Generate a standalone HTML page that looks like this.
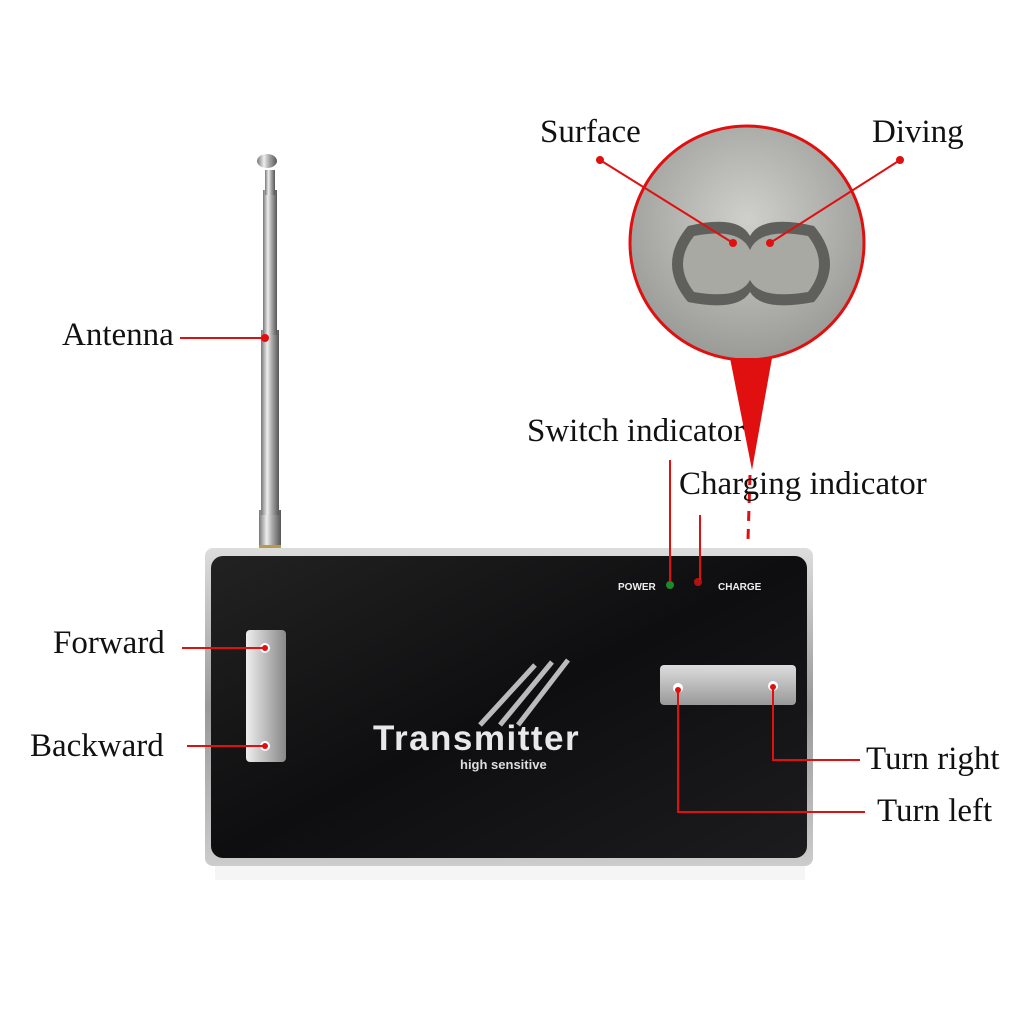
<!DOCTYPE html>
<html><head><meta charset="utf-8"><style>
html,body{margin:0;padding:0;background:#fff;}
body{width:1024px;height:1024px;position:relative;overflow:hidden;font-family:"Liberation Serif",serif;}
.lbl{position:absolute;font-size:33px;color:#111;white-space:nowrap;line-height:1;}
</style></head><body>
<svg width="1024" height="1024" style="position:absolute;left:0;top:0">
<defs>
<linearGradient id="ant" x1="0" x2="1"><stop offset="0" stop-color="#777"/><stop offset=".35" stop-color="#eee"/><stop offset=".6" stop-color="#aaa"/><stop offset="1" stop-color="#555"/></linearGradient>
<linearGradient id="body" x1="0" y1="0" x2="0" y2="1"><stop offset="0" stop-color="#ddd"/><stop offset=".5" stop-color="#999"/><stop offset="1" stop-color="#ccc"/></linearGradient>
<linearGradient id="face" x1="0" y1="0" x2="1" y2="1"><stop offset="0" stop-color="#222"/><stop offset=".5" stop-color="#0e0e10"/><stop offset="1" stop-color="#1c1c1e"/></linearGradient>
<linearGradient id="btn" x1="0" x2="1"><stop offset="0" stop-color="#eee"/><stop offset=".5" stop-color="#bbb"/><stop offset="1" stop-color="#888"/></linearGradient>
<linearGradient id="btn2" x1="0" y1="0" x2="0" y2="1"><stop offset="0" stop-color="#ddd"/><stop offset="1" stop-color="#999"/></linearGradient>
<radialGradient id="circ" cx=".5" cy=".4" r=".6"><stop offset="0" stop-color="#cfcfcb"/><stop offset="1" stop-color="#9a9a96"/></radialGradient>
<clipPath id="cc"><circle cx="747" cy="243" r="117"/></clipPath>
</defs>
<rect x="259" y="510" width="22" height="42" fill="url(#ant)"/>
<rect x="261" y="330" width="18" height="185" fill="url(#ant)"/>
<rect x="263" y="190" width="14" height="145" fill="url(#ant)"/>
<rect x="265" y="170" width="10" height="25" fill="url(#ant)"/>
<ellipse cx="267" cy="161" rx="10" ry="7" fill="url(#ant)"/>
<rect x="259" y="545" width="22" height="6" fill="#b89a4a"/>
<rect x="205" y="548" width="608" height="318" rx="8" fill="url(#body)"/>
<rect x="211" y="556" width="596" height="302" rx="12" fill="url(#face)"/>
<rect x="215" y="866" width="590" height="14" fill="#eee" opacity=".6"/>
<rect x="246" y="630" width="40" height="132" rx="4" fill="url(#btn)"/>
<circle cx="265" cy="648" r="5" fill="#fff"/><circle cx="265" cy="746" r="5" fill="#fff"/>
<rect x="660" y="665" width="136" height="40" rx="4" fill="url(#btn2)"/>
<circle cx="678" cy="688" r="5" fill="#fff"/><circle cx="773" cy="686" r="5" fill="#fff"/>
<g stroke="#bbb" stroke-width="5">
<line x1="480" y1="725" x2="535" y2="665"/><line x1="500" y1="725" x2="552" y2="662"/><line x1="518" y1="725" x2="568" y2="660"/>
</g>
<text x="373" y="750" font-family="Liberation Sans,sans-serif" font-weight="bold" font-size="35" letter-spacing="1.5" fill="#e8e8e8">Transmitter</text>
<text x="460" y="769" font-family="Liberation Sans,sans-serif" font-weight="bold" font-size="13" fill="#ddd">high sensitive</text>
<text x="618" y="590" font-family="Liberation Sans,sans-serif" font-weight="bold" font-size="10" fill="#eee">POWER</text>
<text x="718" y="590" font-family="Liberation Sans,sans-serif" font-weight="bold" font-size="10" fill="#eee">CHARGE</text>
<circle cx="670" cy="585" r="4" fill="#1a8a2a"/><circle cx="698" cy="582" r="4" fill="#b31212"/>
<circle cx="747" cy="243" r="117" fill="url(#circ)"/>
<g clip-path="url(#cc)">
<path d="M688 226 Q738 214 750 236 Q762 214 814 226 Q846 264 814 302 Q762 312 750 292 Q738 312 688 302 Q656 264 688 226Z" fill="#5f5f5b"/>
<path d="M694 236 Q740 227 750 250 Q760 227 808 236 Q830 264 808 292 Q760 300 750 280 Q740 300 694 292 Q672 264 694 236Z" fill="#a9a9a4"/>
</g>
<circle cx="747" cy="243" r="117" fill="none" stroke="#e01010" stroke-width="3"/>
<polygon points="730,358 772,358 752,470" fill="#e01010"/>
<line x1="750" y1="475" x2="748" y2="540" stroke="#e01010" stroke-width="3" stroke-dasharray="10 8"/>
<g stroke="#e01010" stroke-width="2" fill="none">
<line x1="180" y1="338" x2="265" y2="338"/>
<line x1="182" y1="648" x2="265" y2="648"/>
<line x1="187" y1="746" x2="265" y2="746"/>
<line x1="600" y1="160" x2="733" y2="243"/>
<line x1="900" y1="160" x2="770" y2="243"/>
<line x1="670" y1="460" x2="670" y2="582"/>
<line x1="700" y1="515" x2="700" y2="580"/>
<polyline points="773,687 773,760 860,760"/>
<polyline points="678,690 678,812 865,812"/>
</g>
<g fill="#e01010">
<circle cx="265" cy="338" r="4"/><circle cx="600" cy="160" r="4"/><circle cx="900" cy="160" r="4"/>
<circle cx="733" cy="243" r="4"/><circle cx="770" cy="243" r="4"/>
<circle cx="265" cy="648" r="3"/><circle cx="265" cy="746" r="3"/>
<circle cx="678" cy="690" r="3"/><circle cx="773" cy="687" r="3"/>
</g>
</svg>
<div class="lbl" style="left:540px;top:116px">Surface</div>
<div class="lbl" style="left:872px;top:116px">Diving</div>
<div class="lbl" style="left:62px;top:319px">Antenna</div>
<div class="lbl" style="left:527px;top:415px">Switch indicator</div>
<div class="lbl" style="left:679px;top:468px">Charging indicator</div>
<div class="lbl" style="left:53px;top:627px">Forward</div>
<div class="lbl" style="left:30px;top:730px">Backward</div>
<div class="lbl" style="left:866px;top:743px">Turn right</div>
<div class="lbl" style="left:877px;top:795px">Turn left</div>
</body></html>
